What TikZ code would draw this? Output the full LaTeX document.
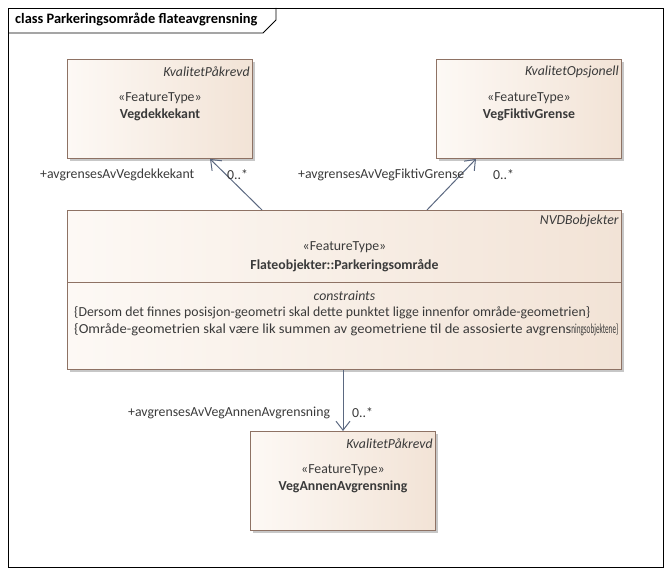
\documentclass[tikz,border=0pt]{standalone}
\usepackage{fontspec}
\setmainfont{Carlito}
\usetikzlibrary{arrows.meta,shadows,calc}
\definecolor{boxL}{HTML}{FDF9F5}
\definecolor{boxR}{HTML}{F2E3D6}
\definecolor{boxB}{HTML}{8E7264}
\definecolor{txt}{HTML}{3A3A3A}
\definecolor{conn}{HTML}{5B6880}
\tikzset{
  umlbox/.style={draw=boxB, line width=0.9pt, left color=boxL, right color=boxR,
     drop shadow={shadow xshift=3pt, shadow yshift=-3pt, fill=black, opacity=0.22},
     anchor=north west, inner sep=0pt},
  lbl/.style={font=\fontsize{13.8}{16}\selectfont, text=txt, inner sep=0pt},
  tag/.style={lbl, font=\fontsize{13.8}{16}\selectfont\itshape},
  nm/.style={lbl, font=\fontsize{13.8}{16}\selectfont\bfseries},
  assoc/.style={draw=conn, line width=1pt, -{Straight Barb[length=9pt,width=14pt,line width=1pt]}},
}
\begin{document}
\begin{tikzpicture}[x=1pt,y=-1pt]
\useasboundingbox (0,0) rectangle (671,575);
% frame
\draw[black, line width=0.8pt] (8,8) rectangle (663,567);
\draw[black, line width=0.8pt] (8,33) -- (263,33) -- (276,20) -- (276,8);
\node[lbl, font=\fontsize{14.4}{16}\selectfont\bfseries, text=black, anchor=west] (title) at (15,20) {class Parkeringsområde flateavgrensning};

% boxes
\node[umlbox, minimum width=185, minimum height=99] (vd) at (67,59) {};
\node[umlbox, minimum width=185, minimum height=99] (vf) at (436,59) {};
\node[umlbox, minimum width=554, minimum height=159] (fl) at (67,210) {};
\node[umlbox, minimum width=185, minimum height=99] (va) at (250,431) {};

% Vegdekkekant
\node[tag, anchor=east] (vdtag) at ($(vd.north east)+(-3,13)$) {KvalitetPåkrevd};
\node[lbl] (vdst) at ($(vd.north)+(0,39)$) {«FeatureType»};
\node[nm] (vdnm) at ($(vd.north)+(0,56)$) {Vegdekkekant};

% VegFiktivGrense
\node[tag, anchor=east] (vftag) at ($(vf.north east)+(-3,13)$) {KvalitetOpsjonell};
\node[lbl] (vfst) at ($(vf.north)+(0,39)$) {«FeatureType»};
\node[nm] (vfnm) at ($(vf.north)+(0,56)$) {VegFiktivGrense};

% Flateobjekter
\node[tag, anchor=east] (fltag) at ($(fl.north east)+(-3,11)$) {NVDBobjekter};
\node[lbl] (flst) at ($(fl.north)+(0,37)$) {«FeatureType»};
\node[nm] (flnm) at ($(fl.north)+(0,56)$) {Flateobjekter::Parkeringsområde};
\draw[boxB, line width=0.9pt] ($(fl.north west)+(0,72)$) -- ($(fl.north east)+(0,72)$);
\node[tag] (flc) at ($(fl.north)+(0,86)$) {constraints};
\node[lbl, anchor=west] (c1) at ($(fl.north west)+(7,103)$) {\{Dersom det finnes posisjon-geometri skal dette punktet ligge innenfor område-geometrien\}};
\node[lbl, anchor=west] (c2) at ($(fl.north west)+(7,120)$) {\scalebox{1.058}[1]{\{Område-geometrien skal være lik summen av geometriene til de assosierte avgrens}\resizebox{47pt}{\height}{ningsobjektene\}}};

% VegAnnenAvgrensning
\node[tag, anchor=east] (vatag) at ($(va.north east)+(-3,13)$) {KvalitetPåkrevd};
\node[lbl] (vast) at ($(va.north)+(0,39)$) {«FeatureType»};
\node[nm] (vanm) at ($(va.north)+(0,56)$) {VegAnnenAvgrensning};

% connectors
\coordinate (a1s) at ($(fl.north west)+(195,0)$);
\coordinate (a1e) at ($(vd.south west)+(143,0)$);
\draw[assoc] (a1s) -- (a1e);
\coordinate (a2s) at ($(fl.north west)+(360,0)$);
\coordinate (a2e) at ($(vf.south west)+(40,0)$);
\draw[assoc] (a2s) -- (a2e);
\coordinate (a3s) at ($(fl.south west)+(276,0)$);
\coordinate (a3e) at ($(va.north west)+(93,0)$);
\draw[assoc] (a3s) -- (a3e);

% role labels
\node[lbl, anchor=west] (r1) at (40,175) {+avgrensesAvVegdekkekant};
\node[lbl, anchor=west] (m1) at (227,175) {0..*};
\node[lbl, anchor=west] (r2) at (298,175) {+avgrensesAvVegFiktivGrense};
\node[lbl, anchor=west] (m2) at (493,175) {0..*};
\node[lbl, anchor=west] (r3) at (128,413) {+avgrensesAvVegAnnenAvgrensning};
\node[lbl, anchor=west] (m3) at (352,413) {0..*};
\end{tikzpicture}
\end{document}
